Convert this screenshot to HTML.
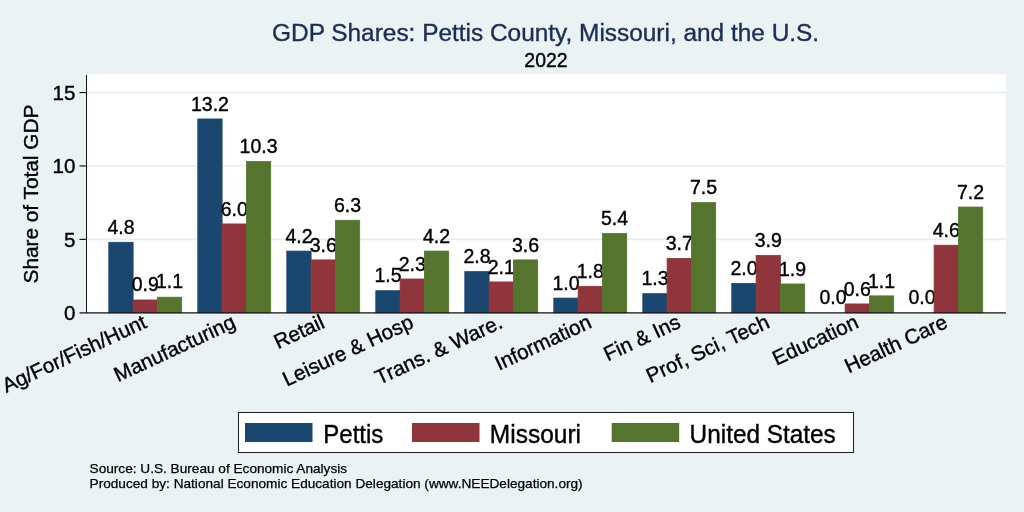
<!DOCTYPE html>
<html><head><meta charset="utf-8"><title>GDP Shares</title>
<style>
html,body{margin:0;padding:0;background:#eaf2f3;}
svg{display:block;}
text{font-family:"Liberation Sans",sans-serif;fill:#000;stroke:#000;stroke-width:0.38px;}
.v{font-size:19.5px;text-anchor:middle;}
.xl{font-size:20.7px;text-anchor:end;}
.yt{font-size:20.6px;text-anchor:end;}
.ytitle{font-size:20.8px;text-anchor:middle;}
.title{font-size:24.42px;text-anchor:middle;fill:#1e2d53;stroke:#1e2d53;}
.sub{font-size:19.5px;text-anchor:middle;}
.lg{font-size:25.6px;}
.note{font-size:13.63px;stroke-width:0.25px;}
</style></head><body>
<svg width="1024" height="512" viewBox="0 0 1024 512">
<rect x="0" y="0" width="1024" height="512" fill="#eaf2f3"/>
<rect x="87" y="74" width="919" height="238.75" fill="#fff"/>
<line x1="87" x2="1006" y1="239.35" y2="239.35" stroke="#e4eef0" stroke-width="1.6"/>
<line x1="87" x2="1006" y1="165.95" y2="165.95" stroke="#e4eef0" stroke-width="1.6"/>
<line x1="87" x2="1006" y1="92.55" y2="92.55" stroke="#e4eef0" stroke-width="1.6"/>
<rect x="108.80" y="242.29" width="24.30" height="70.46" fill="#1a476f" stroke="#1a476f" stroke-width="0.8"/>
<text class="v" x="120.95" y="233.89">4.8</text>
<rect x="133.10" y="299.98" width="24.30" height="12.77" fill="#90353b" stroke="#90353b" stroke-width="0.8"/>
<text class="v" x="145.25" y="291.14">0.9</text>
<rect x="157.40" y="297.19" width="24.30" height="15.56" fill="#55752f" stroke="#55752f" stroke-width="0.8"/>
<text class="v" x="169.55" y="288.20">1.1</text>
<text class="xl" transform="translate(147.85,326.95) rotate(-25)">Ag/For/Fish/Hunt</text>
<rect x="197.80" y="118.97" width="24.30" height="193.78" fill="#1a476f" stroke="#1a476f" stroke-width="0.8"/>
<text class="v" x="209.95" y="110.57">13.2</text>
<rect x="222.10" y="223.94" width="24.30" height="88.81" fill="#90353b" stroke="#90353b" stroke-width="0.8"/>
<text class="v" x="234.25" y="216.27">6.0</text>
<rect x="246.40" y="161.55" width="24.30" height="151.20" fill="#55752f" stroke="#55752f" stroke-width="0.8"/>
<text class="v" x="258.55" y="153.15">10.3</text>
<text class="xl" transform="translate(236.85,326.95) rotate(-25)">Manufacturing</text>
<rect x="286.80" y="251.09" width="24.30" height="61.66" fill="#1a476f" stroke="#1a476f" stroke-width="0.8"/>
<text class="v" x="298.95" y="242.69">4.2</text>
<rect x="311.10" y="259.90" width="24.30" height="52.85" fill="#90353b" stroke="#90353b" stroke-width="0.8"/>
<text class="v" x="323.25" y="251.50">3.6</text>
<rect x="335.40" y="220.27" width="24.30" height="92.48" fill="#55752f" stroke="#55752f" stroke-width="0.8"/>
<text class="v" x="347.55" y="211.87">6.3</text>
<text class="xl" transform="translate(325.85,326.95) rotate(-25)">Retail</text>
<rect x="375.80" y="290.73" width="24.30" height="22.02" fill="#1a476f" stroke="#1a476f" stroke-width="0.8"/>
<text class="v" x="387.95" y="282.33">1.5</text>
<rect x="400.10" y="278.99" width="24.30" height="33.76" fill="#90353b" stroke="#90353b" stroke-width="0.8"/>
<text class="v" x="412.25" y="270.59">2.3</text>
<rect x="424.40" y="251.09" width="24.30" height="61.66" fill="#55752f" stroke="#55752f" stroke-width="0.8"/>
<text class="v" x="436.55" y="242.69">4.2</text>
<text class="xl" transform="translate(414.85,326.95) rotate(-25)">Leisure &amp; Hosp</text>
<rect x="464.80" y="271.65" width="24.30" height="41.10" fill="#1a476f" stroke="#1a476f" stroke-width="0.8"/>
<text class="v" x="476.95" y="263.25">2.8</text>
<rect x="489.10" y="281.92" width="24.30" height="30.83" fill="#90353b" stroke="#90353b" stroke-width="0.8"/>
<text class="v" x="501.25" y="273.52">2.1</text>
<rect x="513.40" y="259.90" width="24.30" height="52.85" fill="#55752f" stroke="#55752f" stroke-width="0.8"/>
<text class="v" x="525.55" y="251.50">3.6</text>
<text class="xl" transform="translate(503.85,326.95) rotate(-25)">Trans. &amp; Ware.</text>
<rect x="553.80" y="298.07" width="24.30" height="14.68" fill="#1a476f" stroke="#1a476f" stroke-width="0.8"/>
<text class="v" x="565.95" y="289.67">1.0</text>
<rect x="578.10" y="286.33" width="24.30" height="26.42" fill="#90353b" stroke="#90353b" stroke-width="0.8"/>
<text class="v" x="590.25" y="277.93">1.8</text>
<rect x="602.40" y="233.48" width="24.30" height="79.27" fill="#55752f" stroke="#55752f" stroke-width="0.8"/>
<text class="v" x="614.55" y="225.08">5.4</text>
<text class="xl" transform="translate(592.85,326.95) rotate(-25)">Information</text>
<rect x="642.80" y="293.67" width="24.30" height="19.08" fill="#1a476f" stroke="#1a476f" stroke-width="0.8"/>
<text class="v" x="654.95" y="285.27">1.3</text>
<rect x="667.10" y="258.43" width="24.30" height="54.32" fill="#90353b" stroke="#90353b" stroke-width="0.8"/>
<text class="v" x="679.25" y="250.03">3.7</text>
<rect x="691.40" y="202.65" width="24.30" height="110.10" fill="#55752f" stroke="#55752f" stroke-width="0.8"/>
<text class="v" x="703.55" y="194.25">7.5</text>
<text class="xl" transform="translate(681.85,326.95) rotate(-25)">Fin &amp; Ins</text>
<rect x="731.80" y="283.39" width="24.30" height="29.36" fill="#1a476f" stroke="#1a476f" stroke-width="0.8"/>
<text class="v" x="743.95" y="274.99">2.0</text>
<rect x="756.10" y="255.50" width="24.30" height="57.25" fill="#90353b" stroke="#90353b" stroke-width="0.8"/>
<text class="v" x="768.25" y="247.10">3.9</text>
<rect x="780.40" y="283.98" width="24.30" height="28.77" fill="#55752f" stroke="#55752f" stroke-width="0.8"/>
<text class="v" x="792.55" y="276.46">1.9</text>
<text class="xl" transform="translate(770.85,326.95) rotate(-25)">Prof, Sci, Tech</text>
<text class="v" x="832.95" y="304.35">0.0</text>
<rect x="845.10" y="303.94" width="24.30" height="8.81" fill="#90353b" stroke="#90353b" stroke-width="0.8"/>
<text class="v" x="857.25" y="295.54">0.6</text>
<rect x="869.40" y="295.87" width="24.30" height="16.88" fill="#55752f" stroke="#55752f" stroke-width="0.8"/>
<text class="v" x="881.55" y="288.20">1.1</text>
<text class="xl" transform="translate(859.85,326.95) rotate(-25)">Education</text>
<text class="v" x="921.95" y="304.35">0.0</text>
<rect x="934.10" y="245.22" width="24.30" height="67.53" fill="#90353b" stroke="#90353b" stroke-width="0.8"/>
<text class="v" x="946.25" y="236.82">4.6</text>
<rect x="958.40" y="207.05" width="24.30" height="105.70" fill="#55752f" stroke="#55752f" stroke-width="0.8"/>
<text class="v" x="970.55" y="198.65">7.2</text>
<text class="xl" transform="translate(948.85,326.95) rotate(-25)">Health Care</text>
<line x1="86.5" x2="86.5" y1="75" y2="313.25" stroke="#111" stroke-width="1.05"/>
<line x1="79.5" x2="1006" y1="312.85" y2="312.85" stroke="#111" stroke-width="1.1"/>
<text class="yt" x="75.5" y="319.95">0</text>
<line x1="79.5" x2="87" y1="239.35" y2="239.35" stroke="#000" stroke-width="1.1"/>
<text class="yt" x="75.5" y="246.55">5</text>
<line x1="79.5" x2="87" y1="165.95" y2="165.95" stroke="#000" stroke-width="1.1"/>
<text class="yt" x="75.5" y="173.15">10</text>
<line x1="79.5" x2="87" y1="92.55" y2="92.55" stroke="#000" stroke-width="1.1"/>
<text class="yt" x="75.5" y="99.75">15</text>
<text class="ytitle" transform="translate(38.0,194.1) rotate(-90)">Share of Total GDP</text>
<text class="title" x="545.6" y="40.7">GDP Shares: Pettis County, Missouri, and the U.S.</text>
<text class="sub" x="546" y="67">2022</text>
<rect x="238.5" y="412.5" width="615" height="40" fill="#fff" stroke="#222" stroke-width="1.05"/>
<rect x="245" y="423" width="67.5" height="19" fill="#1a476f"/>
<text class="lg" x="323.3" y="442.5" textLength="60.0" lengthAdjust="spacingAndGlyphs">Pettis</text>
<rect x="412" y="423" width="67.5" height="19" fill="#90353b"/>
<text class="lg" x="489.8" y="442.5" textLength="91.2" lengthAdjust="spacingAndGlyphs">Missouri</text>
<rect x="611.7" y="423" width="67.5" height="19" fill="#55752f"/>
<text class="lg" x="689.6" y="442.5" textLength="146.2" lengthAdjust="spacingAndGlyphs">United States</text>
<text class="note" x="89.6" y="472.7">Source: U.S. Bureau of Economic Analysis</text>
<text class="note" x="89.6" y="488.2">Produced by: National Economic Education Delegation (www.NEEDelegation.org)</text>
</svg>
</body></html>
